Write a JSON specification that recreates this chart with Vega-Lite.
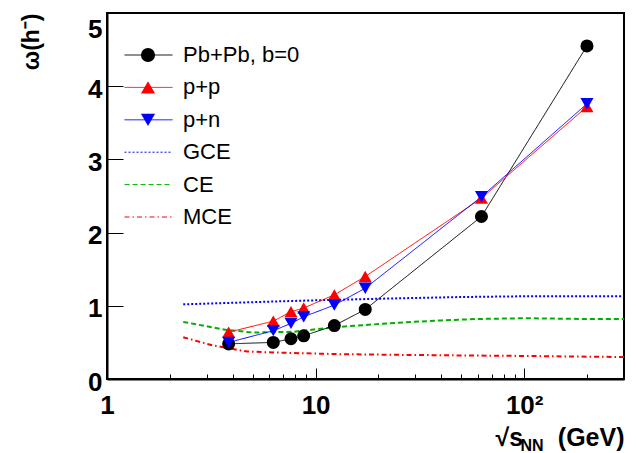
{
  "$schema": "https://vega.github.io/schema/vega-lite/v6.json",
  "width": 517,
  "height": 366,
  "autosize": {"type": "none"},
  "padding": {"left": 107, "top": 13, "right": 12, "bottom": 74},
  "background": "white",
  "config": {
    "view": {"stroke": "#000", "strokeWidth": 2},
    "font": "Liberation Sans"
  },
  "datasets": {
    "obs": [
      {"series": "Pb+Pb, b=0", "marker": "Pb+Pb, b=0", "energy": 3.83, "omega": 0.48},
      {"series": "Pb+Pb, b=0", "marker": "Pb+Pb, b=0", "energy": 6.27, "omega": 0.50},
      {"series": "Pb+Pb, b=0", "marker": "Pb+Pb, b=0", "energy": 7.62, "omega": 0.55},
      {"series": "Pb+Pb, b=0", "marker": "Pb+Pb, b=0", "energy": 8.77, "omega": 0.59},
      {"series": "Pb+Pb, b=0", "marker": "Pb+Pb, b=0", "energy": 12.3, "omega": 0.73},
      {"series": "Pb+Pb, b=0", "marker": "Pb+Pb, b=0", "energy": 17.3, "omega": 0.95},
      {"series": "Pb+Pb, b=0", "marker": "Pb+Pb, b=0", "energy": 62.4, "omega": 2.22},
      {"series": "Pb+Pb, b=0", "marker": "Pb+Pb, b=0", "energy": 200, "omega": 4.55},
      {"series": "p+p", "marker": "p+p", "energy": 3.83, "omega": 0.64},
      {"series": "p+p", "marker": "p+p", "energy": 6.27, "omega": 0.79},
      {"series": "p+p", "marker": "p+p", "energy": 7.62, "omega": 0.92},
      {"series": "p+p", "marker": "p+p", "energy": 8.77, "omega": 0.97},
      {"series": "p+p", "marker": "p+p", "energy": 12.3, "omega": 1.15},
      {"series": "p+p", "marker": "p+p", "energy": 17.3, "omega": 1.40},
      {"series": "p+p", "marker": "p+p", "energy": 62.4, "omega": 2.47},
      {"series": "p+p", "marker": "p+p", "energy": 200, "omega": 3.72},
      {"series": "p+n", "marker": "p+n", "energy": 3.83, "omega": 0.50},
      {"series": "p+n", "marker": "p+n", "energy": 6.27, "omega": 0.66},
      {"series": "p+n", "marker": "p+n", "energy": 7.62, "omega": 0.76},
      {"series": "p+n", "marker": "p+n", "energy": 8.77, "omega": 0.85},
      {"series": "p+n", "marker": "p+n", "energy": 12.3, "omega": 1.01},
      {"series": "p+n", "marker": "p+n", "energy": 17.3, "omega": 1.24},
      {"series": "p+n", "marker": "p+n", "energy": 62.4, "omega": 2.49},
      {"series": "p+n", "marker": "p+n", "energy": 200, "omega": 3.76}
    ],
    "model": [
      {"series": "GCE", "energy": 2.32, "omega": 1.02},
      {"series": "GCE", "energy": 5, "omega": 1.05},
      {"series": "GCE", "energy": 10, "omega": 1.075},
      {"series": "GCE", "energy": 22.8, "omega": 1.10},
      {"series": "GCE", "energy": 50, "omega": 1.12},
      {"series": "GCE", "energy": 100, "omega": 1.13},
      {"series": "GCE", "energy": 301, "omega": 1.13},
      {"series": "CE", "energy": 2.32, "omega": 0.78},
      {"series": "CE", "energy": 3, "omega": 0.72},
      {"series": "CE", "energy": 3.75, "omega": 0.67},
      {"series": "CE", "energy": 5, "omega": 0.635},
      {"series": "CE", "energy": 7.8, "omega": 0.645},
      {"series": "CE", "energy": 12.6, "omega": 0.71},
      {"series": "CE", "energy": 25, "omega": 0.77},
      {"series": "CE", "energy": 40, "omega": 0.80},
      {"series": "CE", "energy": 60, "omega": 0.82},
      {"series": "CE", "energy": 100, "omega": 0.83},
      {"series": "CE", "energy": 200, "omega": 0.82},
      {"series": "CE", "energy": 301, "omega": 0.82},
      {"series": "MCE", "energy": 2.32, "omega": 0.57},
      {"series": "MCE", "energy": 3.2, "omega": 0.46},
      {"series": "MCE", "energy": 4.7, "omega": 0.375},
      {"series": "MCE", "energy": 6.75, "omega": 0.36},
      {"series": "MCE", "energy": 12.6, "omega": 0.34},
      {"series": "MCE", "energy": 25, "omega": 0.33},
      {"series": "MCE", "energy": 60, "omega": 0.32},
      {"series": "MCE", "energy": 100, "omega": 0.315},
      {"series": "MCE", "energy": 200, "omega": 0.305},
      {"series": "MCE", "energy": 301, "omega": 0.30}
    ]
  },
  "layer": [
    {
      "data": {"name": "model"},
      "mark": {"type": "line", "strokeWidth": 2, "clip": true},
      "encoding": {
        "x": {
          "field": "energy", "type": "quantitative",
          "scale": {"type": "log", "domain": [1, 301], "nice": false},
          "axis": {
            "orient": "bottom",
            "values": [1, 10, 100],
            "labelExpr": "datum.value == 100 ? '10²' : format(datum.value, 'd')",
            "tickSize": -11, "tickColor": "#000", "tickWidth": 1,
            "domainColor": "#000", "domainWidth": 2,
            "grid": false,
            "labelFont": "Liberation Sans", "labelFontWeight": "bold", "labelFontSize": 26,
            "labelColor": "#000", "labelPadding": 24, "labelBaseline": "top",
            "labelFlush": false, "labelOverlap": false,
            "title": "√s\u00a0\u00a0\u00a0\u00a0\u00a0(GeV)",
            "titleX": 517, "titleY": 66, "titleAlign": "right", "titleBaseline": "alphabetic",
            "titleFont": "Liberation Sans", "titleFontWeight": "bold", "titleFontSize": 25, "titleColor": "#000"
          }
        },
        "y": {
          "field": "omega", "type": "quantitative",
          "scale": {"domain": [0, 5], "nice": false},
          "axis": {
            "values": [0, 1, 2, 3, 4, 5],
            "format": "d",
            "tickSize": -16, "tickColor": "#000", "tickWidth": 1,
            "domainColor": "#000", "domainWidth": 2,
            "grid": false,
            "labelFont": "Liberation Sans", "labelFontWeight": "bold", "labelFontSize": 26,
            "labelColor": "#000", "labelPadding": 21,
            "labelBaseline": {"condition": {"test": "datum.value == 5", "value": "top"}, "value": "middle"},
            "labelOffset": 3,
            "labelFlush": false, "labelOverlap": false,
            "title": "ω(h⁻)",
            "titleAngle": -90, "titleX": -64, "titleY": 0, "titleAlign": "right", "titleBaseline": "bottom",
            "titleFont": "Liberation Sans", "titleFontWeight": "bold", "titleFontSize": 23, "titleColor": "#000"
          }
        },
        "color": {
          "field": "series", "type": "nominal",
          "scale": {
            "domain": ["Pb+Pb, b=0", "p+p", "p+n", "GCE", "CE", "MCE"],
            "range": ["#000000", "#ff0000", "#0000ff", "#0000ff", "#00b000", "#ff0000"]
          },
          "legend": {
            "orient": "none", "legendX": 17, "legendY": 31, "title": null,
            "symbolType": "stroke", "symbolSize": 2304, "symbolStrokeWidth": 1,
            "labelFont": "Liberation Sans", "labelFontSize": 22, "labelColor": "#000",
            "labelOffset": 10, "rowPadding": 10.4, "clipHeight": 22, "padding": 0
          }
        },
        "strokeDash": {
          "field": "series", "type": "nominal",
          "scale": {
            "domain": ["Pb+Pb, b=0", "p+p", "p+n", "GCE", "CE", "MCE"],
            "range": [[1, 0], [1, 0], [1, 0], [2, 2], [5, 3], [5, 3, 1.5, 3]]
          }
        }
      }
    },
    {
      "data": {"name": "obs"},
      "mark": {"type": "line", "strokeWidth": 1},
      "encoding": {
        "x": {
          "field": "energy", "type": "quantitative",
          "axis": {
            "orient": "bottom",
            "values": [2, 3, 4, 5, 6, 7, 8, 9, 20, 30, 40, 50, 60, 70, 80, 90, 200],
            "labels": false, "domain": false, "grid": false,
            "tickSize": -5, "tickColor": "#000", "tickWidth": 1,
            "title": "NN",
            "titleX": 413, "titleY": 71, "titleAlign": "left", "titleBaseline": "alphabetic",
            "titleFont": "Liberation Sans", "titleFontWeight": "bold", "titleFontSize": 16, "titleColor": "#000"
          }
        },
        "y": {"field": "omega", "type": "quantitative"},
        "color": {"field": "series", "type": "nominal"},
        "strokeDash": {"field": "series", "type": "nominal"}
      }
    },
    {
      "data": {"name": "obs"},
      "mark": {"type": "point", "filled": true, "opacity": 1, "size": 170, "strokeWidth": 0},
      "encoding": {
        "x": {"field": "energy", "type": "quantitative", "axis": null},
        "y": {"field": "omega", "type": "quantitative"},
        "shape": {
          "field": "marker", "type": "nominal",
          "scale": {"domain": ["Pb+Pb, b=0", "p+p", "p+n"], "range": ["circle", "triangle-up", "triangle-down"]},
          "legend": {
            "orient": "none", "legendX": 30, "legendY": 31, "title": null,
            "symbolSize": 200, "symbolStrokeWidth": 0, "labelOpacity": 0,
            "labelFontSize": 22, "rowPadding": 10.4, "clipHeight": 22, "padding": 0, "zindex": 2
          }
        },
        "fill": {
          "field": "marker", "type": "nominal",
          "scale": {"domain": ["Pb+Pb, b=0", "p+p", "p+n"], "range": ["#000000", "#ff0000", "#0000ff"]}
        }
      }
    }
  ],
  "resolve": {"axis": {"x": "independent"}}
}
